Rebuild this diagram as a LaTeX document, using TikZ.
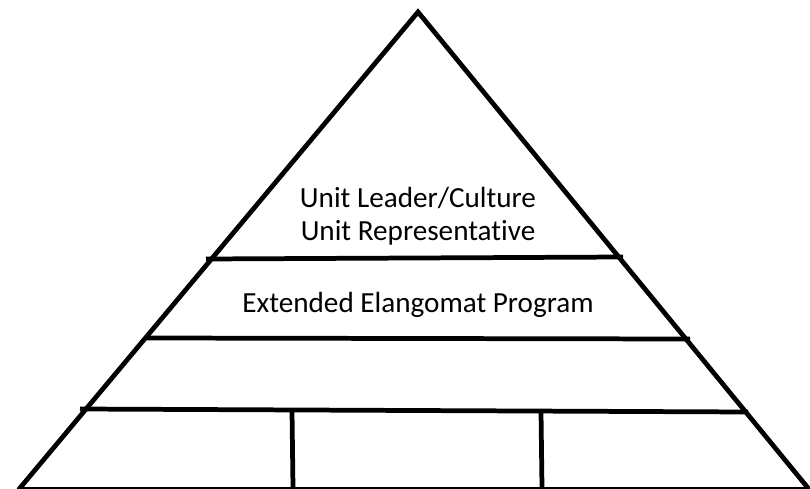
\documentclass[tikz,border=0pt]{standalone}
\usepackage{fontspec}
\setmainfont{Carlito}[Ligatures=NoCommon]
\usetikzlibrary{calc,positioning}

\begin{document}
\begin{tikzpicture}[x=0.02cm, y=-0.02cm]

\tikzstyle{edge}=[line width=2.7pt, line cap=rect, line join=miter]
\tikzstyle{base}=[line width=0.8pt]
\tikzstyle{lbl}=[text centered, anchor=base, inner sep=0pt, font=\fontsize{16.6}{19}\selectfont]

\useasboundingbox (0,0) rectangle (810,489);

% outline
\coordinate (A) at (418,12);
\coordinate (BL) at (20,488);
\coordinate (BR) at (808,488);

\draw[style = edge] (BL) -- (A) -- (BR);
\draw[style = base] (BL) -- (BR);

% levels
\coordinate (L1a) at (206,259); \coordinate (L1b) at (623,257);
\coordinate (L2a) at (147,338); \coordinate (L2b) at (690,339);
\coordinate (L3a) at (80,409);  \coordinate (L3b) at (748,412);

\draw[style = edge, line cap=butt] (L1a) -- (L1b);
\draw[style = edge, line cap=butt] (L2a) -- (L2b);
\draw[style = edge, line cap=butt] (L3a) -- (L3b);

% bottom cells
\coordinate (V1a) at (292,411); \coordinate (V1b) at (293,488);
\coordinate (V2a) at (541,412); \coordinate (V2b) at (542,488);

\draw[style = edge, line cap=butt] (V1a) -- (V1b);
\draw[style = edge, line cap=butt] (V2a) -- (V2b);

% text
\node(T1)[style = lbl] at (418,208) {Unit Leader/Culture};
\node(T2)[style = lbl] at (418,240) {Unit Representative};
\node(T3)[style = lbl] at (418,312) {Extended Elangomat Program};

\end{tikzpicture}
\end{document}
